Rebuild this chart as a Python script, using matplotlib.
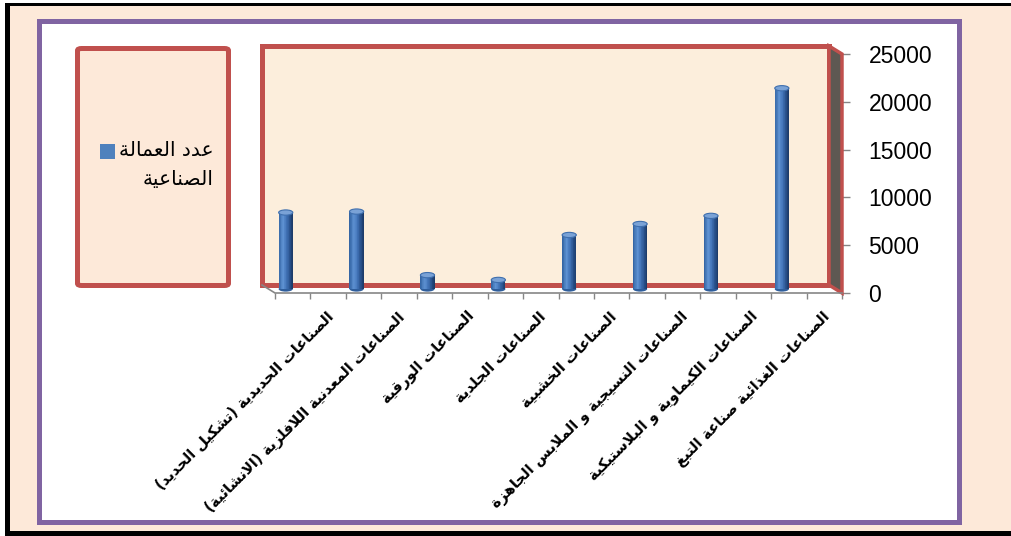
import matplotlib
matplotlib.use("Agg")
import matplotlib.pyplot as plt
from matplotlib.patches import Rectangle, Polygon, Ellipse, FancyBboxPatch
from matplotlib.colors import LinearSegmentedColormap
from matplotlib.transforms import offset_copy
from matplotlib.lines import Line2D
import numpy as np

# industrial workforce by sector
categories = [
    "الصناعات الحديدية (تشكيل الحديد)",
    "الصناعات المعدنية اللافلزية (الانشائية)",
    "الصناعات الورقية",
    "الصناعات الجلدية",
    "الصناعات الخشبية",
    "الصناعات النسيجية و الملابس الجاهزة",
    "الصناعات الكيماوية و البلاستيكية",
    "الصناعات الغذائية صناعة التبغ",
]
workers = [8000, 8100, 1450, 950, 5650, 6800, 7650, 21000]
series_name = ["عدد العمالة", "الصناعية"]
y_ticks = [0, 5000, 10000, 15000, 20000, 25000]

W, H = 1011, 536
RED = "#C0504D"
PURPLE = "#8064A2"
PEACH = "#FDE9D9"
WALL = "#FCEEDC"
GRAY = "#868686"

# --- minimal Arabic shaping: presentation forms + visual (LTR) order ---
_letters = "ءآأؤإئابةتثجحخدذرزسشصضطظعغفقكلمنهوىي"
_counts = [1, 2, 2, 2, 2, 4, 2, 4, 2, 4, 4, 4, 4, 4, 2, 2, 2, 2, 4, 4, 4, 4,
           4, 4, 4, 4, 4, 4, 4, 4, 4, 4, 4, 2, 2, 4]
FORMS = {}
_code = 0xFE80
for ch, n in zip(_letters, _counts):
    FORMS[ch] = [chr(_code + k) for k in range(n)]
    _code += n
LAM_ALEF = {"آ": (0xFEF5, 0xFEF6), "أ": (0xFEF7, 0xFEF8),
            "إ": (0xFEF9, 0xFEFA), "ا": (0xFEFB, 0xFEFC)}


def shape(text):
    units = []
    i = 0
    while i < len(text):
        c = text[i]
        if c == "ل" and i + 1 < len(text) and text[i + 1] in LAM_ALEF:
            iso, fin = LAM_ALEF[text[i + 1]]
            units.append(("lig", [chr(iso), chr(fin)]))
            i += 2
            continue
        units.append((c, FORMS.get(c)))
        i += 1
    out = []
    for k, (c, forms) in enumerate(units):
        if forms is None:
            out.append({"(": ")", ")": "("}.get(c, c))
            continue
        prev = units[k - 1][1] if k > 0 else None
        nxt = units[k + 1][1] if k + 1 < len(units) else None
        j_prev = prev is not None and len(prev) == 4 and len(forms) > 1
        j_next = len(forms) == 4 and nxt is not None
        if j_prev and j_next:
            out.append(forms[3])
        elif j_next:
            out.append(forms[2])
        elif j_prev:
            out.append(forms[1])
        else:
            out.append(forms[0])
    return "".join(reversed(out))


def fig_xy(x, y):
    return x / W, 1 - y / H


fig = plt.figure(figsize=(W / 100, H / 100), dpi=100, facecolor="white")

# page background and borders
fig.add_artist(Rectangle(fig_xy(10, 531), (W - 10) / W, 525 / H,
                         transform=fig.transFigure, facecolor=PEACH,
                         edgecolor="none", zorder=-3))
for x0, y0, x1, y1 in [(5, 3, W, 6), (5, 3, 10, 536), (5, 531, W, 536)]:
    fig.add_artist(Rectangle(fig_xy(x0, y1), (x1 - x0) / W, (y1 - y0) / H,
                             transform=fig.transFigure, facecolor="black",
                             edgecolor="none", zorder=-2))
fig.add_artist(Rectangle(fig_xy(38.5, 521.5), 920 / W, 501 / H,
                         transform=fig.transFigure, facecolor="white",
                         edgecolor=PURPLE, linewidth=3.6, zorder=-2))

# legend box
fig.add_artist(FancyBboxPatch(fig_xy(77.5, 285.5), 151 / W, 237 / H,
                              boxstyle="round,pad=0,rounding_size=0.004",
                              transform=fig.transFigure, facecolor=PEACH,
                              edgecolor=RED, linewidth=3.6, zorder=-1))
fig.add_artist(Rectangle(fig_xy(100, 159), 15 / W, 15 / H,
                         transform=fig.transFigure, facecolor="#4F81BD",
                         edgecolor="none"))
fig.text(*fig_xy(214, 150), shape(series_name[0]), ha="right", va="center",
         fontsize=14.5, family="DejaVu Sans")
fig.text(*fig_xy(214, 180), shape(series_name[1]), ha="right", va="center",
         fontsize=14.5, family="DejaVu Sans")

# front plane of the chart
ax = fig.add_axes([275 / W, 1 - 293 / H, 567 / W, 239 / H])
ax.set_facecolor("none")
ax.set_xlim(-0.25, len(categories) - 0.25)
ax.set_ylim(0, 25000)
for s in ax.spines.values():
    s.set_visible(False)

back = offset_copy(ax.transData, fig, x=-13, y=8, units="dots")
mid = offset_copy(ax.transData, fig, x=-7, y=4, units="dots")

x_lo, x_hi = ax.get_xlim()
ax.add_patch(Rectangle((x_lo, 0), x_hi - x_lo, 25000, transform=back,
                       facecolor=WALL, edgecolor=RED, linewidth=3.6,
                       zorder=0.5, clip_on=False))

# side wall and floor edges in display space
fig.canvas.draw()
to_fig = fig.transFigure.inverted()
f0 = ax.transData.transform((x_hi, 0))
f1 = ax.transData.transform((x_hi, 25000))
d = np.array([-13, 8])
side = to_fig.transform(np.array([f0, f1, f1 + d, f0 + d]))
fig.add_artist(Polygon(side, closed=True, transform=fig.transFigure,
                       facecolor="#5E5852", edgecolor=RED, linewidth=2.5,
                       zorder=0.6))
l0 = ax.transData.transform((x_lo, 0))
pts = to_fig.transform(np.array([l0 + d, l0, f0]))
fig.add_artist(Line2D(pts[:, 0], pts[:, 1], transform=fig.transFigure,
                      color=GRAY, linewidth=1.2, zorder=0.7))

# cylinder bars
shade = LinearSegmentedColormap.from_list(
    "cyl", [(0, "#3566A5"), (0.3, "#5F93D3"), (0.55, "#4274B8"),
            (0.85, "#254C85"), (1, "#1D3C6A")])
bw = 0.2
n = 20
for i, v in enumerate(workers):
    ax.add_patch(Ellipse((i, 0), bw, 550, transform=mid, facecolor="#2F5E9C",
                         edgecolor="none", zorder=1.5, clip_on=False))
    for k in range(n):
        ax.bar(i - bw / 2 + (k + 0.5) * bw / n, v, width=bw / n * 1.05,
               color=shade(k / (n - 1)), linewidth=0, transform=mid,
               zorder=2, clip_on=False)
    ax.add_patch(Ellipse((i, v), bw, 550, transform=mid, facecolor="#7AA2D6",
                         edgecolor="#3F6FAE", linewidth=0.8, zorder=3,
                         clip_on=False))

# axes ticks
ax.set_xticks(np.arange(x_lo, x_hi + 0.01, 0.5))
ax.set_xticklabels([])
ax.tick_params(axis="x", direction="out", length=4, color=GRAY, width=1)
ax.yaxis.tick_right()
ax.set_yticks(y_ticks)
ax.set_yticklabels([str(t) for t in y_ticks], family="Liberation Sans",
                   fontsize=16.5)
ax.tick_params(axis="y", direction="out", length=6, color=GRAY, width=1,
               pad=13)

# rotated category labels
lab = offset_copy(ax.get_xaxis_transform(), fig, x=33, y=-16, units="dots")
for i, name in enumerate(categories):
    ax.text(i, 0, shape(name), transform=lab, rotation=45,
            rotation_mode="anchor", ha="right", va="top", fontsize=10.5,
            fontweight="bold", family="DejaVu Sans", clip_on=False)

fig.savefig("out.png", dpi=100)
